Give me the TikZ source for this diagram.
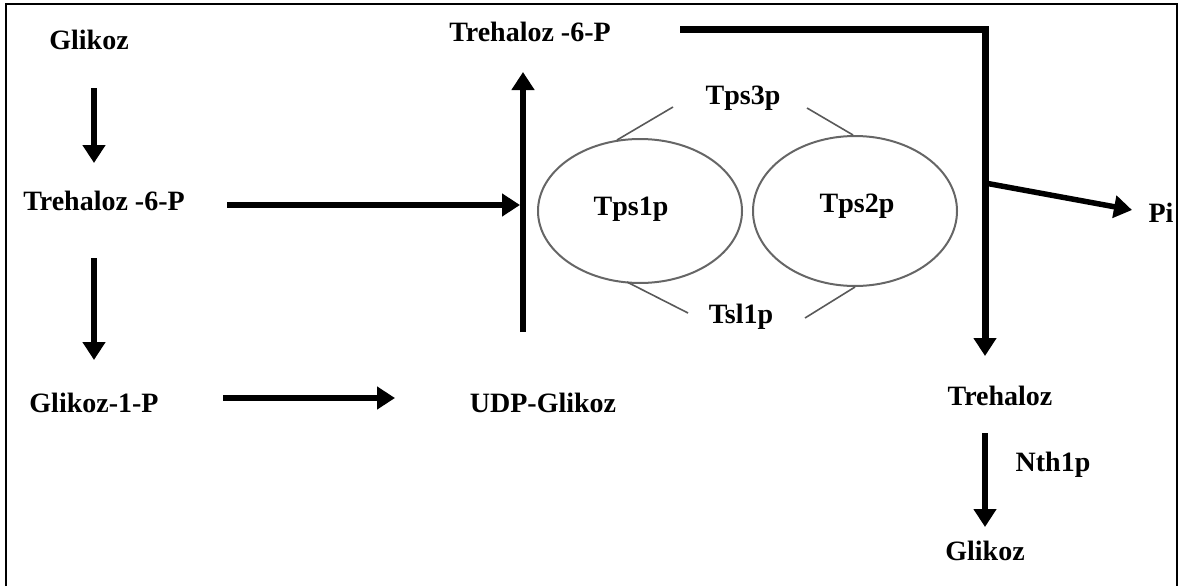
\documentclass[tikz,border=0pt]{standalone}
\usepackage{fontspec}
\setmainfont{Liberation Serif}
\usetikzlibrary{arrows.meta}
\begin{document}
\begin{tikzpicture}[x=1pt,y=-1pt,
  lbl/.style={font=\fontsize{28}{32}\selectfont\bfseries, inner sep=0pt, anchor=base},
  arr/.style={line width=6.5pt, -{Triangle[width=22pt,length=18pt]}},
  enz/.style={draw=black!60, line width=2pt},
  tie/.style={draw=black!65, line width=1.6pt}]
\useasboundingbox (0,0) rectangle (1180,586);
% frame
\draw[line width=2.5pt] (6,586) -- (6,4) -- (1177,4) -- (1177,586);
% labels
\node[lbl] (g1)  at (89,49)   {Glikoz};
\node[lbl] (t6a) at (104,210) {Trehaloz -6-P};
\node[lbl] (g1p) at (94,412)  {Glikoz-1-P};
\node[lbl] (udp) at (543,412) {UDP-Glikoz};
\node[lbl] (t6b) at (530,42)  {Trehaloz -6-P};
\node[lbl] (tps3) at (743,104) {Tps3p};
\node[lbl] (tsl1) at (741,323) {Tsl1p};
\node[lbl] (pi)  at (1161,222) {Pi};
\node[lbl] (tre) at (1000,405) {Trehaloz};
\node[lbl] (nth) at (1053,471) {Nth1p};
\node[lbl] (g2)  at (985,560) {Glikoz};
% enzymes
\draw[enz] (640,211) ellipse [x radius=102, y radius=72];
\draw[enz] (855,211) ellipse [x radius=102, y radius=75];
\node[lbl] (tps1) at (631,215) {Tps1p};
\node[lbl] (tps2) at (857,212) {Tps2p};
% connector coordinates
\coordinate (a1s) at (94,88);   \coordinate (a1e) at (94,163);
\coordinate (a2s) at (94,258);  \coordinate (a2e) at (94,360);
\coordinate (a3s) at (227,205); \coordinate (a3e) at (520,205);
\coordinate (a4s) at (223,398); \coordinate (a4e) at (395,398);
\coordinate (a5s) at (523,332); \coordinate (a5e) at (523,72);
\coordinate (l6s) at (680,30);  \coordinate (l6c) at (985,30); \coordinate (a6e) at (985,356);
\coordinate (br)  at (985,183); \coordinate (a7e) at (1132,210);
\coordinate (a8s) at (985,433); \coordinate (a8e) at (985,527);
% ties
\draw[tie] (673,107) -- (617,140);
\draw[tie] (807,108) -- (853,135);
\draw[tie] (627,282) -- (688,313);
\draw[tie] (805,318) -- (855,287);
% arrows
\draw[arr] (a1s) -- (a1e);
\draw[arr] (a2s) -- (a2e);
\draw[arr] (a3s) -- (a3e);
\draw[arr] (a4s) -- (a4e);
\draw[arr] (a5s) -- (a5e);
\draw[arr, line width=7pt, line join=miter] (l6s) -- (l6c) -- (a6e);
\draw[arr, line width=5.5pt] (br) -- (a7e);
\draw[arr] (a8s) -- (a8e);
\end{tikzpicture}
\end{document}
